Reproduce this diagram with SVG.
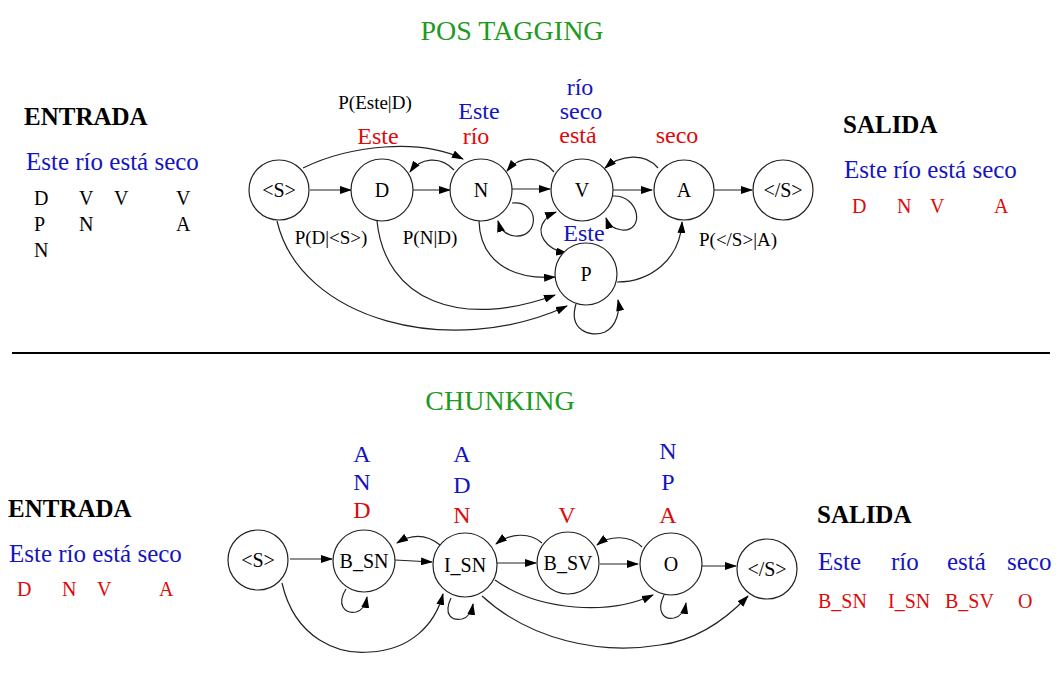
<svg xmlns="http://www.w3.org/2000/svg" width="1058" height="684" viewBox="0 0 1058 684" font-family="'Liberation Serif', 'DejaVu Serif', serif">
<style>
text{font-family:'Liberation Serif','DejaVu Serif',serif}
.n circle{fill:#fff;stroke:#222;stroke-width:1.2}
.n text{font-size:20px;text-anchor:middle;fill:#000}
.e path{fill:none;stroke:#222;stroke-width:1.2;marker-end:url(#ah)}
.lb{font-size:24px;text-anchor:middle}
.blue{fill:#1414c0}
.red{fill:#dd0a0a}
.grn{fill:#1e9a1e;font-size:28px;text-anchor:middle}
.hd{font-size:25px;font-weight:bold;fill:#000}
.big{font-size:25px}
.tag{font-size:20px}
.pl{font-size:19px;fill:#000;text-anchor:middle}
</style>
<defs>
<marker id="ah" markerWidth="12" markerHeight="8" refX="11" refY="4" orient="auto-start-reverse" markerUnits="userSpaceOnUse">
<path d="M0,0 L12,4 L0,8 Z" fill="#000"/>
</marker>
</defs>
<rect width="1058" height="684" fill="#fff"/>
<text class="grn" x="512" y="40">POS TAGGING</text>
<text class="grn" x="500" y="410">CHUNKING</text>
<line x1="12" y1="353" x2="1050" y2="353" stroke="#000" stroke-width="2"/>

<!-- top left / right text -->
<text class="hd" x="24" y="125">ENTRADA</text>
<text class="big blue" x="26" y="170">Este río está seco</text>
<g class="tag" fill="#000">
<text x="34" y="205">D</text><text x="79" y="205">V</text><text x="114" y="205">V</text><text x="176" y="205">V</text>
<text x="34" y="231">P</text><text x="79" y="231">N</text><text x="176" y="231">A</text>
<text x="34" y="257">N</text>
</g>
<text class="hd" x="843" y="133">SALIDA</text>
<text class="big blue" x="844" y="178">Este río está seco</text>
<g class="tag red">
<text x="852" y="213">D</text><text x="897" y="213">N</text><text x="930" y="213">V</text><text x="994" y="213">A</text>
</g>

<!-- top labels -->
<text class="pl" x="375" y="109">P(Este|D)</text>
<text class="lb red" x="378" y="144">Este</text>
<text class="lb blue" x="479" y="119">Este</text>
<text class="lb red" x="476" y="144">río</text>
<text class="lb blue" x="580" y="95">río</text>
<text class="lb blue" x="581" y="119">seco</text>
<text class="lb red" x="578" y="143">está</text>
<text class="lb red" x="677" y="143">seco</text>
<text class="lb blue" x="584" y="241">Este</text>
<text class="pl" x="331" y="244">P(D|&lt;S&gt;)</text>
<text class="pl" x="430" y="244">P(N|D)</text>
<text class="pl" x="738" y="246">P(&lt;/S&gt;|A)</text>

<g id="top-connectors" class="e">
<path d="M310,190 L351,190"/>
<path d="M413,190 L450,190"/>
<path d="M512,189 L550,189"/>
<path d="M613,190 L652,190"/>
<path d="M714,190 L752,190"/>
<path d="M303,168 C350,145 420,138 463,159"/>
<path d="M454,170 C440,155 420,158 410,172"/>
<path d="M554,172 C540,155 520,155 507,171"/>
<path d="M658,168 C645,152 620,155 605,168"/>
<path d="M512,203 C540,200 540,238 515,236 C505,235 500,228 498,221"/>
<path d="M613,196 C640,195 645,232 622,230 C612,229 608,224 606,218"/>
<path d="M567,253 C545,250 535,232 545,220 C548,216 551,214 556,212" style="marker-start:url(#ah)"/>
<path d="M479,221 C480,260 510,280 555,277"/>
<path d="M617,282 C650,282 680,260 682,222"/>
<path d="M576,304 C568,330 590,338 605,332 C617,326 620,310 618,300"/>
<path d="M377,221 C385,300 460,330 555,295"/>
<path d="M277,221 C300,320 450,360 567,306"/>
</g>

<g id="t-S" class="n"><circle cx="279" cy="190" r="30"/><text x="279" y="197">&lt;S&gt;</text></g>
<g id="t-D" class="n"><circle cx="382" cy="190" r="31"/><text x="382" y="197">D</text></g>
<g id="t-N" class="n"><circle cx="481" cy="190" r="31"/><text x="481" y="197">N</text></g>
<g id="t-V" class="n"><circle cx="582" cy="190" r="31"/><text x="582" y="197">V</text></g>
<g id="t-A" class="n"><circle cx="684" cy="190" r="30"/><text x="684" y="197">A</text></g>
<g id="t-E" class="n"><circle cx="783" cy="190" r="30"/><text x="783" y="197">&lt;/S&gt;</text></g>
<g id="t-P" class="n"><circle cx="586" cy="274" r="31"/><text x="586" y="281">P</text></g>

<!-- bottom left / right text -->
<text class="hd" x="8" y="517">ENTRADA</text>
<text class="big blue" x="9" y="562">Este río está seco</text>
<g class="tag red">
<text x="17" y="596">D</text><text x="62" y="596">N</text><text x="97" y="596">V</text><text x="159" y="596">A</text>
</g>
<text class="hd" x="817" y="523">SALIDA</text>
<g class="big blue">
<text x="818" y="570">Este</text><text x="891" y="570">río</text><text x="947" y="570">está</text><text x="1007" y="570">seco</text>
</g>
<g class="tag red">
<text x="818" y="608">B_SN</text><text x="888" y="608">I_SN</text><text x="945" y="608">B_SV</text><text x="1018" y="608">O</text>
</g>

<!-- bottom labels -->
<text class="lb blue" x="362" y="462">A</text>
<text class="lb blue" x="362" y="490">N</text>
<text class="lb red" x="362" y="518">D</text>
<text class="lb blue" x="462" y="462">A</text>
<text class="lb blue" x="462" y="493">D</text>
<text class="lb red" x="462" y="523">N</text>
<text class="lb red" x="567" y="523">V</text>
<text class="lb blue" x="668" y="459">N</text>
<text class="lb blue" x="668" y="490">P</text>
<text class="lb red" x="668" y="523">A</text>

<g id="bottom-connectors" class="e">
<path d="M290,559 L332,559"/>
<path d="M395,560 L432,562"/>
<path d="M497,563 L536,563"/>
<path d="M600,564 L638,564"/>
<path d="M702,566 L736,566"/>
<path d="M440,545 C425,533 410,535 397,543"/>
<path d="M542,543 C530,532 510,533 496,544"/>
<path d="M642,547 C630,535 610,535 597,545"/>
<path d="M346,589 C336,605 345,614 356,612 C364,610 366,603 367,597"/>
<path d="M451,598 C443,615 452,621 462,619 C470,617 472,610 473,604"/>
<path d="M664,595 C656,612 664,620 674,618 C682,616 685,609 686,603"/>
<path d="M282,583 C295,640 340,655 370,652 C410,650 435,625 443,594"/>
<path d="M495,580 C540,612 610,615 653,595"/>
<path d="M482,596 C530,640 600,655 660,645 C700,640 730,615 748,596"/>
</g>

<g id="b-S" class="n"><circle cx="258" cy="560" r="30"/><text x="258" y="567">&lt;S&gt;</text></g>
<g id="b-BSN" class="n"><circle cx="364" cy="561" r="31"/><text x="364" y="568">B_SN</text></g>
<g id="b-ISN" class="n"><circle cx="465" cy="565" r="32"/><text x="465" y="572">I_SN</text></g>
<g id="b-BSV" class="n"><circle cx="568" cy="563" r="31"/><text x="568" y="570">B_SV</text></g>
<g id="b-O" class="n"><circle cx="671" cy="564" r="31"/><text x="671" y="571">O</text></g>
<g id="b-E" class="n"><circle cx="767" cy="569" r="30"/><text x="767" y="576">&lt;/S&gt;</text></g>
</svg>
